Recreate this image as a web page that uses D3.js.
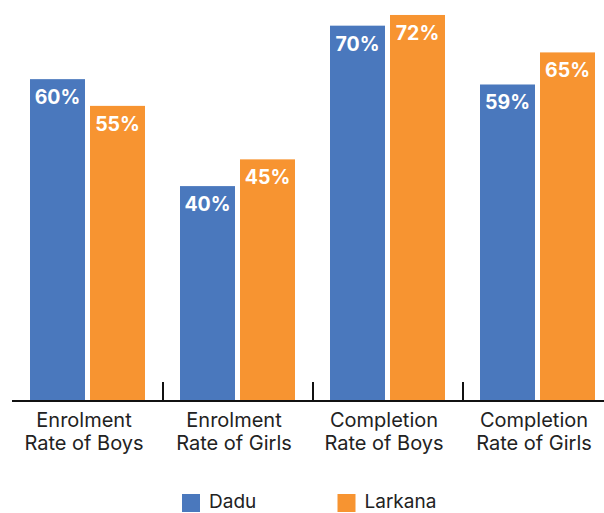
<!DOCTYPE html>
<html>
<head>
<meta charset="utf-8">
<script src="https://cdn.jsdelivr.net/npm/d3@7"></script>
<style>
  html, body { margin: 0; padding: 0; background: #fff; }
  svg { display: block; }
  text { font-family: Inter, "Open Sans", sans-serif; }
</style>
</head>
<body>
<svg id="chart" width="604" height="513"></svg>
<script>
// Education indicators, Dadu vs Larkana (%)
const categories = [
  ["Enrolment", "Rate of Boys"],
  ["Enrolment", "Rate of Girls"],
  ["Completion", "Rate of Boys"],
  ["Completion", "Rate of Girls"]
];
const seriesNames = ["Dadu", "Larkana"];
const dadu = [60, 40, 70, 59];
const larkana = [55, 45, 72, 65];
const colors = ["#4a78bd", "#f79431"];

const svg = d3.select("#chart");
const baseY = 400;

const x = d3.scaleBand()
  .domain(d3.range(categories.length))
  .range([12, 612]);

const xSub = d3.scaleBand()
  .domain(seriesNames)
  .range([18, 133])
  .paddingInner(5 / 60);

const y = d3.scaleLinear()
  .domain([0, 74.8])
  .range([baseY, 0]);

const rows = categories.map((c, i) => ({
  i,
  values: [
    { name: seriesNames[0], value: dadu[i] },
    { name: seriesNames[1], value: larkana[i] }
  ]
}));

const color = d3.scaleOrdinal().domain(seriesNames).range(colors);

const groups = svg.selectAll("g.group")
  .data(rows)
  .join("g")
  .attr("class", "group")
  .attr("transform", d => `translate(${x(d.i)},0)`);

groups.selectAll("rect")
  .data(d => d.values)
  .join("rect")
  .attr("x", d => xSub(d.name))
  .attr("y", d => y(d.value))
  .attr("width", xSub.bandwidth())
  .attr("height", d => baseY - y(d.value))
  .attr("fill", d => color(d.name));

groups.selectAll("text.val")
  .data(d => d.values)
  .join("text")
  .attr("class", "val")
  .attr("x", d => xSub(d.name) + xSub.bandwidth() / 2)
  .attr("y", d => y(d.value) + 25)
  .attr("text-anchor", "middle")
  .attr("fill", "#fff")
  .attr("font-size", 19.5)
  .attr("font-weight", 700)
  .text(d => d.value + "%");

// baseline and group separators
svg.append("line")
  .attr("x1", 12).attr("x2", 604)
  .attr("y1", baseY + 1).attr("y2", baseY + 1)
  .attr("stroke", "#111").attr("stroke-width", 2);

svg.selectAll("line.sep")
  .data(d3.range(1, categories.length))
  .join("line")
  .attr("class", "sep")
  .attr("x1", d => x(d) + 1).attr("x2", d => x(d) + 1)
  .attr("y1", baseY - 18).attr("y2", baseY)
  .attr("stroke", "#111").attr("stroke-width", 2);

// category labels
const lab = svg.selectAll("text.cat")
  .data(rows)
  .join("text")
  .attr("class", "cat")
  .attr("text-anchor", "middle")
  .attr("fill", "#222")
  .attr("font-size", 20)
  .attr("transform", d => `translate(${x(d.i) + x.bandwidth() / 2 - 3},0)`);

lab.selectAll("tspan")
  .data(d => categories[d.i])
  .join("tspan")
  .attr("x", 0)
  .attr("y", (d, j) => 426.5 + j * 23)
  .text(d => d);

// legend
const legend = svg.selectAll("g.leg")
  .data(seriesNames)
  .join("g")
  .attr("class", "leg")
  .attr("transform", (d, i) => `translate(${182 + i * 155.5},494)`);

legend.append("rect")
  .attr("width", 18).attr("height", 18)
  .attr("fill", d => color(d));

legend.append("text")
  .attr("x", 27).attr("y", 14)
  .attr("fill", "#222")
  .attr("font-size", 19)
  .text(d => d);
</script>
</body>
</html>
